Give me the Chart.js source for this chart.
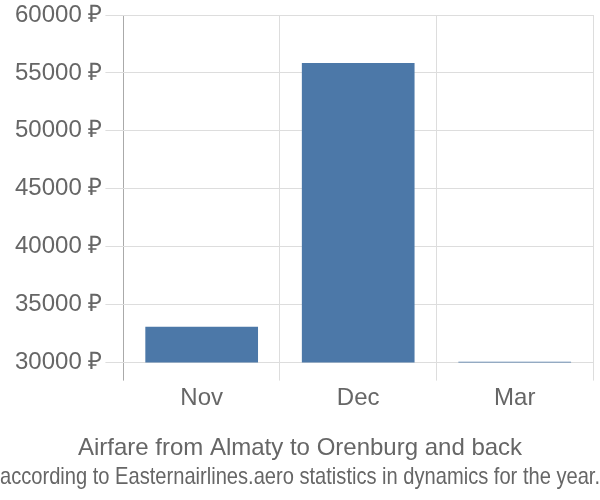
<!DOCTYPE html>
<html>
<head>
<meta charset="utf-8">
<script src="https://cdn.jsdelivr.net/npm/chart.js@4"></script>
<style>
html,body{margin:0;padding:0;background:#fff;}
#wrap{width:600px;height:500px;}
</style>
</head>
<body>
<div id="wrap"><canvas id="c"></canvas></div>
<script>
const categories = ["Nov", "Dec", "Mar"];
const prices = [33100, 55850, 30080];
const yTicks = [30000, 35000, 40000, 45000, 50000, 55000, 60000];
const titleLines = ["Airfare from Almaty to Orenburg and back", "according to Easternairlines.aero statistics in dynamics for the year."];

Chart.defaults.font.family = "'Liberation Sans', Arial, sans-serif";
Chart.defaults.color = "#666";

new Chart(document.getElementById('c'), {
  type: 'bar',
  data: {
    labels: categories,
    datasets: [{
      data: prices,
      backgroundColor: '#4c78a8',
      borderWidth: 0
    }]
  },
  options: {
    responsive: true,
    maintainAspectRatio: false,
    animation: false,
    layout: { padding: 0 },
    plugins: {
      legend: { display: false },
      tooltip: { enabled: false },
      title: {
        display: true,
        position: 'bottom',
        text: titleLines,
        color: '#666',
        font: { size: 24, weight: 'normal' },
        lineHeight: 1.2,
        padding: { top: 19, bottom: 8 }
      }
    },
    scales: {
      x: {
        grid: {
          offset: true,
          color: (ctx) => ctx.index === 0 ? '#aaa' : '#ddd',
          lineWidth: 1,
          tickLength: 18
        },
        border: { display: false },
        ticks: { font: { size: 24 }, color: '#666', padding: 3 }
      },
      y: {
        min: yTicks[0],
        max: yTicks[yTicks.length - 1],
        afterBuildTicks: (axis) => { axis.ticks = yTicks.map(v => ({ value: v })); },
        afterFit: (axis) => { axis.width += 12; },
        grid: { color: '#ddd', tickLength: 18 },
        border: { display: false },
        ticks: {
          font: { size: 24, lineHeight: 1 },
          color: '#666',
          padding: 3,
          callback: (v) => v + ' ₽'
        }
      },
      y2: {
        position: 'right',
        display: true,
        grid: { display: false, drawTicks: false },
        border: { display: false },
        ticks: { display: false },
        afterFit: (axis) => { axis.width = 7; }
      }
    }
  }
});
</script>
</body>
</html>
